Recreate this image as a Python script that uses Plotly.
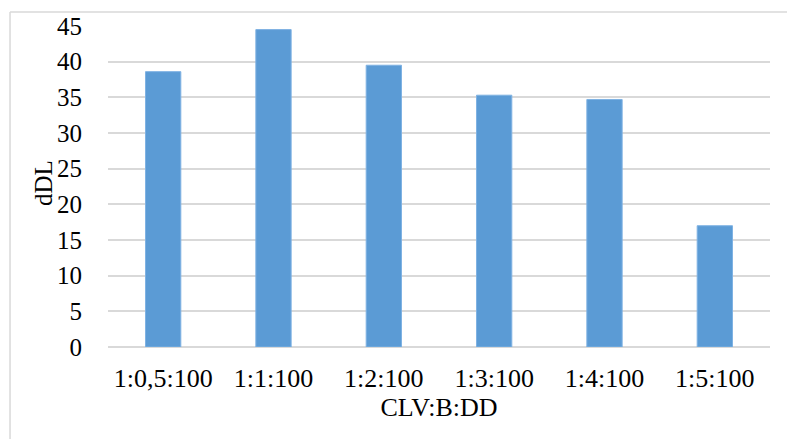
import plotly.graph_objects as go

categories = ["1:0,5:100", "1:1:100", "1:2:100", "1:3:100", "1:4:100", "1:5:100"]
values = [38.6, 44.5, 39.5, 35.3, 34.7, 17.0]
y_ticks = [0, 5, 10, 15, 20, 25, 30, 35, 40, 45]

font_family = "Liberation Serif, Times New Roman, serif"

fig = go.Figure(
    go.Bar(
        x=categories,
        y=values,
        marker=dict(color="#5b9bd5", line=dict(color="#7fb2e3", width=1)),
        width=0.32,
    )
)

fig.update_layout(
    width=787,
    height=439,
    margin=dict(l=108, r=17, t=26, b=92),
    paper_bgcolor="white",
    plot_bgcolor="white",
    showlegend=False,
    font=dict(family=font_family, size=25, color="black"),
    xaxis=dict(
        title=dict(text="CLV:B:DD", font=dict(family=font_family, size=26), standoff=5),
        showgrid=False,
        showline=False,
        ticks="outside",
        ticklen=8,
        tickcolor="rgba(0,0,0,0)",
        tickfont=dict(family=font_family, size=26),
    ),
    yaxis=dict(
        range=[0, 45],
        tickvals=y_ticks,
        showgrid=True,
        gridcolor="#d9d9d9",
        gridwidth=1.5,
        zeroline=True,
        zerolinecolor="#d9d9d9",
        zerolinewidth=1.5,
        showline=False,
        ticks="outside",
        ticklen=20,
        tickcolor="rgba(0,0,0,0)",
        tickfont=dict(family=font_family, size=25),
    ),
    annotations=[
        dict(text="dDL", textangle=-90, xref="paper", yref="paper",
             x=-0.0967, y=0.511, xanchor="center", yanchor="middle",
             showarrow=False, font=dict(family=font_family, size=25)),
    ],
    shapes=[
        dict(type="line", xref="paper", yref="paper", x0=-0.148, x1=1.03, y0=1.044, y1=1.044,
             line=dict(color="#d9d9d9", width=1.5)),
        dict(type="line", xref="paper", yref="paper", x0=-0.148, x1=-0.148, y0=1.044, y1=-0.3,
             line=dict(color="#d9d9d9", width=1.5)),
    ],
)

fig.write_html("out.html")
